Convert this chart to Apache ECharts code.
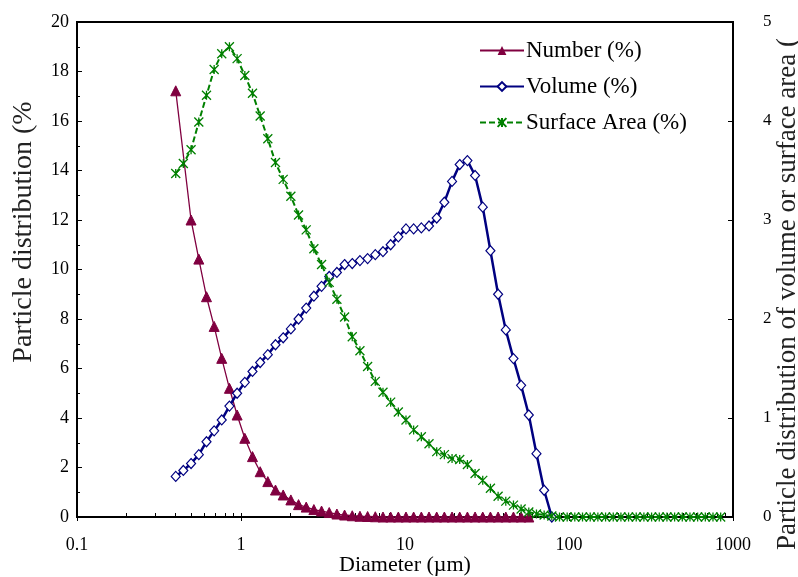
<!DOCTYPE html>
<html>
<head>
<meta charset="utf-8">
<script src="https://cdn.jsdelivr.net/npm/echarts@6/dist/echarts.min.js"></script>
<style>
html,body{margin:0;padding:0;background:#fff;}
#chart{width:798px;height:577px;}
</style>
</head>
<body>
<div id="chart"></div>
<script>
// Particle diameters (µm), one per measured size class
const diameters = [
  0.400, 0.445, 0.496, 0.553, 0.616, 0.686, 0.763, 0.850, 0.947, 1.055,
  1.175, 1.309, 1.457, 1.623, 1.808, 2.014, 2.243, 2.498, 2.782, 3.099,
  3.451, 3.844, 4.282, 4.769, 5.312, 5.916, 6.590, 7.340, 8.176, 9.106,
  10.14, 11.29, 12.58, 14.01, 15.61, 17.38, 19.36, 21.56, 24.02, 26.75,
  29.79, 33.18, 36.96, 41.17, 45.85, 51.05, 56.87, 63.33, 70.54, 78.57,
  87.50, 97.46, 108.5, 120.9, 134.7, 150.0, 167.1, 186.1, 207.3, 230.8,
  257.0, 286.3, 318.9, 355.1, 395.6, 440.6, 490.7, 546.5, 608.6, 677.9,
  755.1, 841.0
];
// Number (%) – left axis (null = no marker shown)
const numberPct = [
  17.22, null, 12.0, 10.42, 8.90, 7.70, 6.41, 5.20, 4.12, 3.18,
  2.44, 1.83, 1.43, 1.09, 0.89, 0.69, 0.50, 0.40, 0.30, 0.24,
  0.18, 0.12, 0.08, 0.05, 0.03, 0.02, 0.01, 0, 0, 0,
  0, 0, 0, 0, 0, 0, 0, 0, 0, 0,
  0, 0, 0, 0, 0, 0, 0
];
// Volume (%) – right axis
const volumePct = [
  0.41, 0.47, 0.54, 0.63, 0.76, 0.87, 0.98, 1.12, 1.25, 1.36,
  1.47, 1.56, 1.64, 1.74, 1.81, 1.90, 2.00, 2.11, 2.23, 2.33,
  2.43, 2.47, 2.55, 2.56, 2.59, 2.61, 2.65, 2.68, 2.75, 2.83,
  2.91, 2.91, 2.92, 2.94, 3.02, 3.18, 3.39, 3.56, 3.60, 3.45,
  3.13, 2.69, 2.25, 1.89, 1.60, 1.33, 1.03, 0.64, 0.27, 0.00
];
// Surface Area (%) – right axis
const surfacePct = [
  3.47, 3.57, 3.71, 3.99, 4.26, 4.52, 4.68, 4.75, 4.63, 4.46,
  4.28, 4.05, 3.82, 3.58, 3.41, 3.24, 3.05, 2.90, 2.71, 2.55,
  2.37, 2.20, 2.02, 1.82, 1.68, 1.52, 1.37, 1.26, 1.16, 1.06,
  0.98, 0.88, 0.81, 0.74, 0.66, 0.63, 0.59, 0.58, 0.53, 0.44,
  0.37, 0.29, 0.21, 0.16, 0.12, 0.08, 0.05, 0.03, 0.02, 0.01,
  0, 0, 0, 0, 0, 0, 0, 0, 0, 0,
  0, 0, 0, 0, 0, 0, 0, 0, 0, 0,
  0, 0
];
// Axis tick values
const xMajorTicks = [0.1, 1, 10, 100, 1000];
const xMinorTicks = [0.2,0.3,0.4,0.5,0.6,0.7,0.8,0.9, 2,3,4,5,6,7,8,9, 20,30,40,50,60,70,80,90, 200,300,400,500,600,700,800,900];
const seriesNames = ['Number (%)', 'Volume (%)', 'Surface Area (%)'];
const xTitle = 'Diameter (µm)';
const yLeftTitle = 'Particle distribution (%';
const yRightTitle = 'Particle distribution of volume or surface area (';

function pairs(vals) {
  const out = [];
  vals.forEach((v, i) => { if (v !== null) out.push([diameters[i], v]); });
  return out;
}

const FONT = 'Liberation Serif';
const chart = echarts.init(document.getElementById('chart'), null, {renderer: 'canvas'});
const starPath = 'path://M0,0L10,10M10,0L0,10M5,0L5,10';

chart.setOption({
  backgroundColor: '#fff',
  animation: false,
  grid: {left: 77, right: 65, top: 22, bottom: 60, containLabel: false, outerBoundsMode: 'none',
    show: true, borderColor: '#000', borderWidth: 2, backgroundColor: 'transparent'},
  legend: {
    orient: 'vertical', left: 474, top: 34, itemWidth: 44, itemHeight: 11, itemGap: 13,
    textStyle: {fontFamily: FONT, fontSize: 23, color: '#000', padding: [0, 0, 0, -3]},
    data: seriesNames
  },
  xAxis: [{
    type: 'log', logBase: 10, min: 0.1, max: 1000,
    name: xTitle, nameLocation: 'middle', nameGap: 37, nameMoveOverlap: false,
    nameTextStyle: {fontFamily: FONT, fontSize: 22, color: '#000'},
    axisLine: {show: true, lineStyle: {color: '#000', width: 2}},
    axisTick: {show: true, inside: false, length: 4, lineStyle: {color: '#000', width: 1}},
    axisLabel: {fontFamily: FONT, fontSize: 18, color: '#000', margin: 19,
      customValues: xMajorTicks,
      formatter: v => String(v)},
    splitLine: {show: false}
  }, {
    type: 'log', logBase: 10, min: 0.1, max: 1000, position: 'bottom', offset: 0,
    axisLine: {show: false},
    axisLabel: {show: false},
    axisTick: {show: true, inside: true, length: 4, customValues: xMinorTicks.concat(xMajorTicks), lineStyle: {color: '#000', width: 1}},
    splitLine: {show: false}
  }],
  yAxis: [{
    type: 'value', min: 0, max: 20, interval: 2, position: 'left',
    axisLine: {show: true, lineStyle: {color: '#000', width: 2}},
    axisTick: {show: true, inside: true, length: 5, lineStyle: {color: '#000'}},
    minorTick: {show: true, splitNumber: 2, length: 3, lineStyle: {color: '#000'}},
    axisLabel: {fontFamily: FONT, fontSize: 18, color: '#000', margin: 8},
    splitLine: {show: false}
  }, {
    type: 'value', min: 0, max: 5, interval: 1, position: 'right',
    axisLine: {show: true, lineStyle: {color: '#000', width: 2}},
    axisTick: {show: true, inside: true, length: 5, lineStyle: {color: '#000'}},
    axisLabel: {fontFamily: FONT, fontSize: 17, color: '#000', margin: 30},
    splitLine: {show: false}
  }],
  graphic: [{
    type: 'text', x: 24, y: 232, rotation: Math.PI / 2,
    style: {text: yLeftTitle, font: '28px "Liberation Serif"', fill: '#222', textAlign: 'center', textVerticalAlign: 'middle'}
  }, {
    type: 'text', x: 788, y: 294, rotation: Math.PI / 2,
    style: {text: yRightTitle, font: '27px "Liberation Serif"', fill: '#222', textAlign: 'center', textVerticalAlign: 'middle'}
  }],
  series: [{
    name: seriesNames[0], type: 'line', xAxisIndex: 0, yAxisIndex: 0,
    data: pairs(numberPct),
    symbol: 'triangle', symbolSize: [10, 10], showAllSymbol: true,
    lineStyle: {color: '#800040', width: 1.3},
    itemStyle: {color: '#800040', borderColor: '#800040'},
    z: 3
  }, {
    name: seriesNames[1], type: 'line', xAxisIndex: 0, yAxisIndex: 1,
    data: pairs(volumePct),
    symbol: 'diamond', symbolSize: [9, 10], showAllSymbol: true,
    lineStyle: {color: '#000080', width: 2.5},
    itemStyle: {color: '#fff', borderColor: '#000080', borderWidth: 1.2},
    z: 4
  }, {
    name: seriesNames[2], type: 'line', xAxisIndex: 0, yAxisIndex: 1,
    data: pairs(surfacePct),
    symbol: starPath, symbolSize: 9, showAllSymbol: true,
    lineStyle: {color: '#008000', width: 2, type: [6, 3]},
    itemStyle: {color: 'rgba(0,0,0,0)', borderColor: '#008000', borderWidth: 1.3},
    z: 5
  }]
});
</script>
</body>
</html>
